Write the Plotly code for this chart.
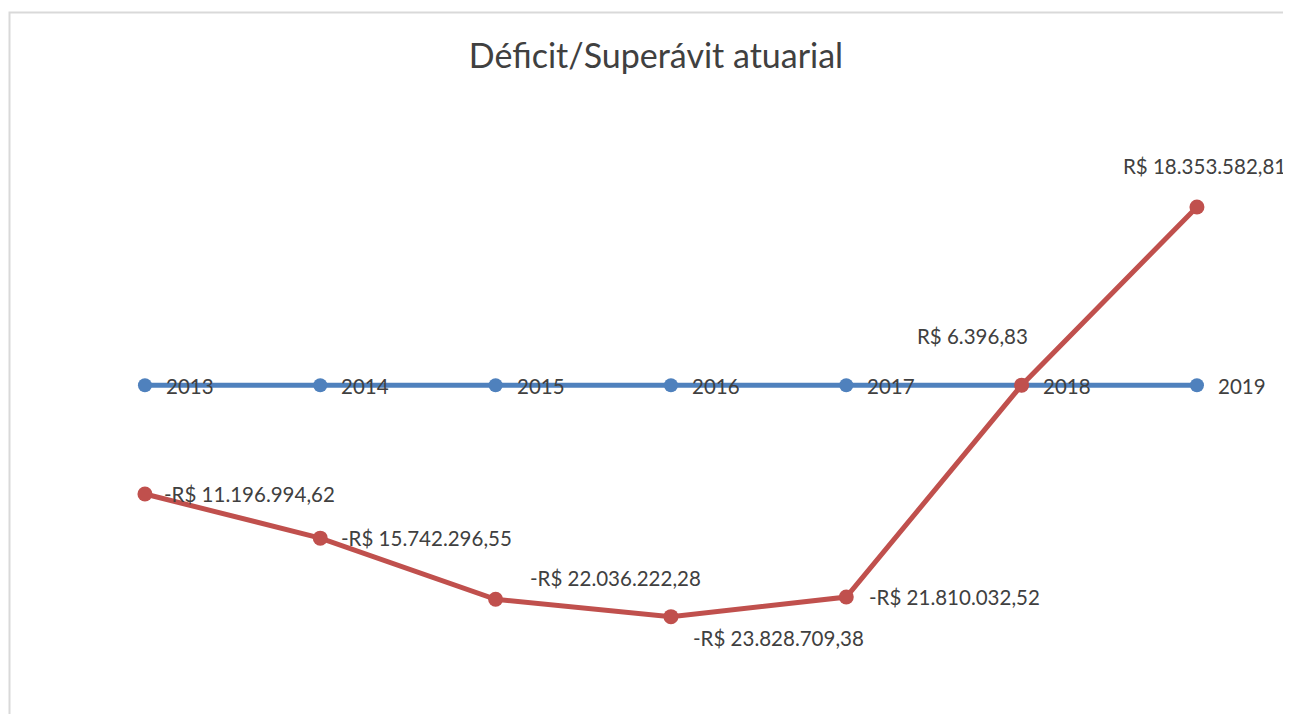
import plotly.graph_objects as go

anos = ["2013", "2014", "2015", "2016", "2017", "2018", "2019"]
base = [0, 0, 0, 0, 0, 0, 0]
resultado = [-11196994.62, -15742296.55, -22036222.28, -23828709.38, -21810032.52, 6396.83, 18353582.81]
rotulos = ["-R$ 11.196.994,62", "-R$ 15.742.296,55", "-R$ 22.036.222,28", "-R$ 23.828.709,38",
           "-R$ 21.810.032,52", "R$ 6.396,83", "R$ 18.353.582,81"]

# label placement (pixel offsets) per red point
rot_pos = [
    dict(xanchor="left", xshift=17, yshift=0),
    dict(xanchor="left", xshift=19, yshift=0),
    dict(xanchor="left", xshift=32, yshift=21),
    dict(xanchor="left", xshift=20, yshift=-21),
    dict(xanchor="left", xshift=21, yshift=0),
    dict(xanchor="right", xshift=8, yshift=49),
    dict(xanchor="center", xshift=8, yshift=41),
]

BLUE = "#4F81BD"
RED = "#C0504D"
TXT = "#404040"
FONT = "Lato"

W, H = 1291, 706  # page body has an 8px margin

xs = list(range(len(anos)))

fig = go.Figure()
fig.add_trace(go.Scatter(x=xs, y=base, mode="lines+markers",
                         line=dict(color=BLUE, width=5),
                         marker=dict(color=BLUE, size=14), hoverinfo="skip",
                         showlegend=False))
fig.add_trace(go.Scatter(x=xs, y=resultado, mode="lines+markers",
                         line=dict(color=RED, width=5),
                         marker=dict(color=RED, size=15), hoverinfo="skip",
                         showlegend=False))

annotations = []
for i, a in enumerate(anos):
    annotations.append(dict(x=xs[i], y=base[i], xref="x", yref="y", text=a,
                            showarrow=False, xanchor="left", yanchor="middle",
                            xshift=19, yshift=-1,
                            font=dict(family=FONT, size=20.5, color=TXT)))
for i, t in enumerate(rotulos):
    p = rot_pos[i]
    annotations.append(dict(x=xs[i], y=resultado[i], xref="x", yref="y", text=t,
                            showarrow=False, xanchor=p["xanchor"], yanchor="middle",
                            xshift=p["xshift"], yshift=p["yshift"],
                            font=dict(family=FONT, size=20.5, color=TXT)))

fig.update_layout(
    width=W, height=H,
    margin=dict(l=0, r=0, t=0, b=0),
    paper_bgcolor="white", plot_bgcolor="white",
    title=dict(text="Déficit/Superávit atuarial", x=648 / W, xanchor="center",
               y=1 - 48 / H, yanchor="middle",
               font=dict(family=FONT, size=34, color=TXT)),
    xaxis=dict(range=[-0.781, 6.582], visible=False, fixedrange=True),
    yaxis=dict(range=[-33.85e6, 38.84e6], visible=False, fixedrange=True),
    annotations=annotations,
    shapes=[dict(type="rect", xref="paper", yref="paper",
                 x0=1.5 / W, x1=1.05, y0=-0.05, y1=1 - 4.5 / H,
                 line=dict(color="#D9D9D9", width=2), layer="below")],
)

fig.write_html("out.html")
